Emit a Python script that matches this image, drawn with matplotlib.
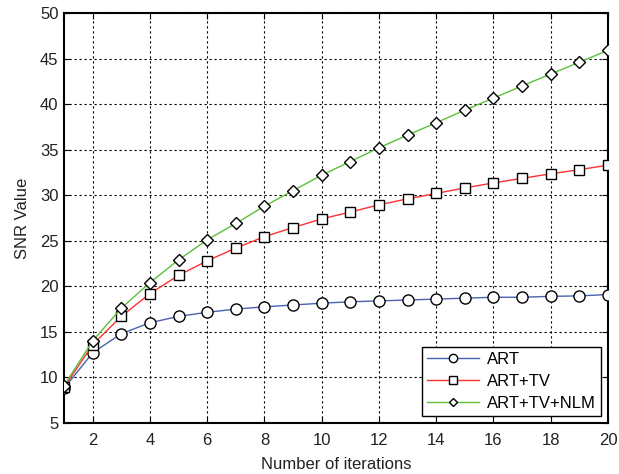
import matplotlib
matplotlib.use("Agg")
import matplotlib.pyplot as plt

iterations = list(range(1, 21))
art = [8.8, 12.7, 14.8, 16.0, 16.7, 17.15, 17.5, 17.75, 17.95, 18.15, 18.3, 18.4, 18.5, 18.6, 18.7, 18.8, 18.8, 18.9, 18.95, 19.1]
art_tv = [8.9, 13.6, 16.7, 19.2, 21.2, 22.8, 24.2, 25.45, 26.45, 27.4, 28.15, 28.95, 29.6, 30.2, 30.8, 31.35, 31.85, 32.35, 32.8, 33.3]
art_tv_nlm = [9.1, 14.0, 17.6, 20.4, 22.9, 25.1, 26.9, 28.8, 30.5, 32.2, 33.7, 35.2, 36.6, 37.95, 39.35, 40.65, 42.0, 43.3, 44.6, 45.9]
labels = ["ART", "ART+TV", "ART+TV+NLM"]
xticks = list(range(2, 21, 2))
yticks = list(range(5, 51, 5))

plt.rcParams['font.family'] = ['Liberation Sans', 'DejaVu Sans']
fig = plt.figure(figsize=(6.19, 4.74), dpi=100)
ax = fig.add_axes([0.1034, 0.1076, 0.8788, 0.865])

ax.plot(iterations, art, color='#4a62b0', lw=1.0, marker='o', ms=8, mfc='white', mec='black', mew=1.0, label=labels[0], zorder=3)
ax.plot(iterations, art_tv, color='#ff3030', lw=1.0, marker='s', ms=7.5, mfc='white', mec='black', mew=1.0, label=labels[1], zorder=4)
ax.plot(iterations, art_tv_nlm, color='#5cbf3a', lw=1.0, marker='D', ms=6, mfc='white', mec='black', mew=1.0, label=labels[2], zorder=5)

ax.set_xlim(1, 20)
ax.set_ylim(5, 50)
ax.set_xticks(xticks)
ax.set_yticks(yticks)
ax.grid(True, color='black', linestyle=(0, (2, 2.5)), linewidth=0.8)
ax.tick_params(direction='in', top=True, right=True, labelsize=12, length=4, colors='black')
ax.tick_params(axis='x', pad=7)
ax.tick_params(axis='y', pad=4)
for t in ax.get_xticklabels() + ax.get_yticklabels():
    t.set_color('#222222')
for s in ax.spines.values():
    s.set_linewidth(1.5)
ax.set_xlabel("Number of iterations", fontsize=12, color='#222222', labelpad=7)
ax.set_ylabel("SNR Value", fontsize=12, color='#222222', labelpad=7)

leg = ax.legend(loc='lower right', fontsize=12, frameon=True, fancybox=False, edgecolor='black',
                borderaxespad=0.42, handlelength=3.1, handletextpad=0.5, labelspacing=0.42,
                borderpad=0.3, markerscale=0.75)
leg.get_frame().set_linewidth(1.0)
leg.get_frame().set_alpha(1)

fig.savefig("out.png", dpi=100)
